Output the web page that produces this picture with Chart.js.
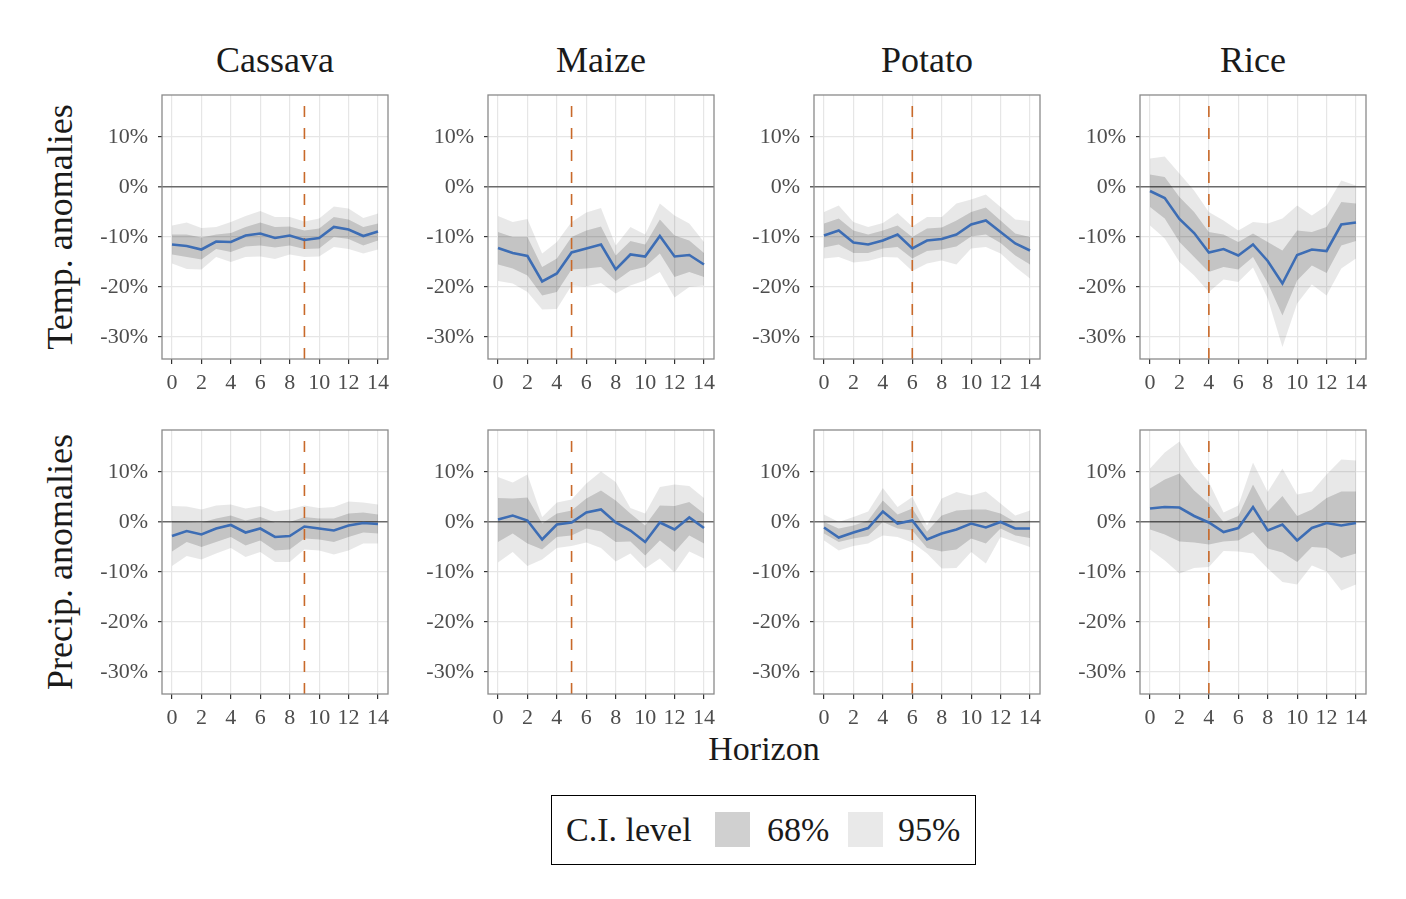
<!DOCTYPE html>
<html>
<head>
<meta charset="utf-8">
<script src="https://cdn.jsdelivr.net/npm/chart.js@4.4.1/dist/chart.umd.min.js"></script>
<style>
  body { margin: 0; background: #fff; font-family: "Liberation Serif", serif; color: #1a1a1a; }
  #wrap { position: relative; width: 1406px; height: 899px; overflow: hidden; }
  canvas { position: absolute; }
  .title { position: absolute; width: 226px; text-align: center; font-size: 36px; line-height: 40px; }
  .rowlab { position: absolute; font-size: 36px; white-space: nowrap; line-height: 40px;
            transform: translate(-50%, -50%) rotate(-90deg); }
  #xlab { position: absolute; left: 764px; top: 749px; font-size: 34px; line-height: 40px;
          transform: translate(-50%, -50%); }
  #legend { position: absolute; left: 551px; top: 795px; width: 423px; height: 68px;
            border: 1.3px solid #000; }
  #legend span { position: absolute; top: 14px; font-size: 34px; line-height: 40px; }
  #legend i { position: absolute; top: 16px; width: 35px; height: 35px; }
</style>
</head>
<body>
<div id="wrap">
  <div id="legend"></div>
  <div id="xlab">Horizon</div>
</div>
<script>
// DATA
const horizons = [0, 1, 2, 3, 4, 5, 6, 7, 8, 9, 10, 11, 12, 13, 14];
const crops = ["Cassava", "Maize", "Potato", "Rice"];
const rowLabels = ["Temp. anomalies", "Precip. anomalies"];
const shockHorizon = [9, 5, 6, 4];
const xTicks = [0, 2, 4, 6, 8, 10, 12, 14];
const yTicks = [-30, -20, -10, 0, 10];
const ciLevels = ["68%", "95%"];

// temperature anomalies (%), one row per crop
const tempEst = [
  [-11.5, -11.8, -12.5, -10.9, -11.0, -9.7, -9.3, -10.2, -9.7, -10.6, -10.2, -8.0, -8.5, -9.8, -8.9],
  [-12.2, -13.2, -13.8, -18.9, -17.3, -13.1, -12.3, -11.5, -16.5, -13.5, -13.9, -9.8, -13.9, -13.6, -15.5],
  [-9.7, -8.7, -11.1, -11.5, -10.7, -9.5, -12.3, -10.7, -10.4, -9.5, -7.5, -6.7, -9.0, -11.3, -12.7],
  [-0.8, -2.2, -6.4, -9.2, -13.1, -12.4, -13.7, -11.5, -14.8, -19.3, -13.6, -12.5, -12.8, -7.5, -7.1]
];
const tempHi68 = [
  [-9.5, -9.5, -10.1, -9.5, -9.2, -8.0, -7.1, -8.0, -7.9, -8.7, -8.3, -6.0, -6.5, -8.0, -7.3],
  [-9.0, -10.0, -10.0, -16.0, -14.3, -10.0, -8.7, -7.9, -13.7, -10.8, -11.5, -6.5, -9.7, -10.7, -13.2],
  [-7.3, -6.3, -8.7, -9.5, -8.7, -7.7, -10.0, -8.3, -8.1, -6.7, -5.0, -4.1, -6.7, -9.3, -10.0],
  [2.5, 2.0, -2.0, -5.0, -9.0, -9.5, -11.0, -9.3, -11.0, -12.7, -8.7, -9.0, -8.0, -3.0, -3.3]
];
const tempLo68 = [
  [-13.5, -14.0, -14.5, -12.4, -13.0, -11.9, -11.7, -12.1, -11.7, -12.4, -12.3, -10.0, -10.4, -11.7, -10.7],
  [-15.5, -16.3, -17.7, -21.7, -21.0, -16.5, -16.3, -16.0, -18.8, -16.7, -16.0, -13.3, -18.0, -17.0, -18.0],
  [-12.1, -11.5, -13.2, -13.2, -12.3, -12.0, -14.3, -12.8, -12.5, -11.9, -9.9, -9.5, -11.2, -13.7, -15.5],
  [-4.0, -6.3, -11.0, -14.0, -17.0, -16.0, -16.5, -14.0, -19.2, -25.7, -18.7, -15.7, -17.2, -11.7, -10.8]
];
const tempHi95 = [
  [-7.7, -7.1, -8.2, -8.0, -7.0, -5.8, -4.8, -6.0, -6.0, -6.9, -6.3, -3.9, -4.3, -6.2, -5.3],
  [-5.8, -7.0, -6.4, -13.3, -11.0, -7.0, -5.1, -4.2, -11.7, -8.0, -9.5, -3.3, -5.7, -7.3, -11.0],
  [-5.0, -3.7, -7.0, -8.0, -7.2, -5.2, -7.9, -6.0, -6.0, -3.3, -2.5, -1.5, -4.0, -6.5, -6.8],
  [5.7, 6.1, 2.7, -0.7, -5.0, -6.7, -8.7, -7.0, -7.3, -6.3, -3.7, -5.7, -3.7, 1.3, 0.3]
];
const tempLo95 = [
  [-15.3, -16.4, -16.5, -14.0, -15.0, -14.0, -13.9, -14.4, -13.5, -14.0, -13.9, -12.0, -12.4, -13.3, -12.5],
  [-18.8, -19.3, -21.0, -24.5, -24.4, -19.7, -19.9, -19.2, -21.3, -19.7, -18.7, -17.0, -22.1, -20.0, -19.7],
  [-14.3, -14.0, -15.1, -14.8, -14.0, -14.1, -16.8, -15.3, -14.7, -15.5, -12.3, -12.0, -13.3, -16.0, -18.3],
  [-7.7, -10.3, -15.0, -17.7, -21.0, -18.5, -19.0, -16.1, -22.3, -32.0, -23.3, -19.5, -21.7, -16.3, -14.3]
];

// precipitation anomalies (%), one row per crop
const precEst = [
  [-2.8, -1.8, -2.5, -1.3, -0.6, -2.1, -1.3, -3.0, -2.8, -0.9, -1.3, -1.7, -0.7, -0.2, -0.4],
  [0.5, 1.3, 0.3, -3.5, -0.5, -0.1, 1.9, 2.5, -0.1, -1.7, -4.0, -0.1, -1.5, 0.9, -1.2],
  [-1.1, -3.1, -2.1, -1.2, 2.1, -0.3, 0.3, -3.5, -2.3, -1.5, -0.3, -1.1, 0.0, -1.3, -1.3],
  [2.7, 3.0, 2.9, 1.2, -0.1, -2.0, -1.2, 3.0, -1.7, -0.5, -3.7, -1.2, -0.2, -0.7, -0.2]
];
const precHi68 = [
  [0.1, 0.0, -0.1, 0.7, 1.3, 0.3, 1.0, -0.1, 0.0, 1.0, 0.7, 0.7, 1.7, 1.9, 1.5],
  [4.8, 4.7, 4.9, -0.3, 1.7, 2.3, 4.7, 6.3, 4.3, 1.7, -0.7, 3.3, 3.2, 4.0, 1.7],
  [0.0, -1.3, -0.7, 0.3, 4.3, 1.5, 2.7, -1.9, 1.3, 2.3, 2.5, 2.5, 1.7, 0.0, 0.3],
  [6.7, 8.5, 9.7, 6.3, 3.7, 0.0, 1.2, 7.5, 2.1, 5.2, 1.2, 2.5, 4.8, 6.1, 6.1]
];
const precLo68 = [
  [-5.9, -4.0, -5.0, -4.0, -3.0, -4.7, -3.7, -5.7, -5.5, -3.3, -3.5, -4.0, -3.0, -2.1, -2.3],
  [-4.0, -2.3, -4.3, -5.5, -3.0, -2.7, -1.3, -1.9, -4.0, -3.9, -6.7, -3.7, -6.0, -2.7, -4.3],
  [-2.3, -4.0, -3.3, -2.8, 0.0, -1.3, -1.7, -5.2, -5.9, -5.5, -3.3, -4.3, -1.3, -2.7, -3.2],
  [-1.5, -2.5, -3.9, -4.1, -4.5, -3.9, -3.7, -2.0, -5.3, -6.1, -8.0, -5.0, -5.2, -7.2, -6.3]
];
const precHi95 = [
  [3.2, 3.1, 2.5, 3.3, 3.5, 2.7, 3.2, 2.1, 2.5, 3.3, 2.8, 3.0, 4.1, 3.9, 3.5],
  [9.0, 7.9, 9.5, 1.0, 3.9, 4.5, 7.7, 10.1, 8.0, 2.8, 1.7, 7.0, 7.5, 7.2, 4.8],
  [1.5, 0.0, 1.0, 2.1, 6.8, 3.0, 5.0, -0.7, 4.7, 6.0, 5.3, 6.1, 3.7, 1.3, 2.3],
  [10.7, 13.9, 16.1, 11.3, 8.0, 1.9, 3.3, 11.9, 6.0, 10.7, 5.5, 6.1, 9.5, 12.5, 12.3]
];
const precLo95 = [
  [-8.8, -6.8, -7.5, -6.3, -5.2, -7.0, -6.0, -8.0, -8.0, -5.5, -5.7, -6.5, -5.7, -4.3, -4.3],
  [-8.1, -6.0, -8.8, -7.5, -5.2, -4.8, -4.1, -5.2, -7.9, -6.3, -9.3, -7.3, -10.1, -5.9, -7.3],
  [-3.7, -5.7, -4.8, -4.3, -2.7, -3.0, -4.1, -6.3, -9.3, -9.2, -6.0, -8.3, -3.0, -4.0, -5.0],
  [-5.5, -7.7, -10.3, -9.2, -9.0, -5.8, -5.9, -6.3, -9.3, -12.0, -12.5, -8.7, -9.9, -13.7, -12.5]
];

const rowsData = [
  { est: tempEst, hi68: tempHi68, lo68: tempLo68, hi95: tempHi95, lo95: tempLo95 },
  { est: precEst, hi68: precHi68, lo68: precLo68, hi95: precHi95, lo95: precLo95 }
];

// LAYOUT
const yMin = -34.4, yMax = 18.4, vlineTop = 16.3;
const xMin = -0.68, xMax = 14.68;
const colLeft = [162, 488, 814, 1140];
const rowTop = [95, 430];
const panelW = 226, panelH = 264;
const padL = 62, padT = 24, padR = 12, padB = 40;

Chart.defaults.font.family = '"Liberation Serif", serif';

const panelBox = {
  id: 'panelBox',
  afterDatasetsDraw(chart) {
    const { ctx, chartArea: a } = chart;
    ctx.save();
    ctx.strokeStyle = '#8a8a8a';
    ctx.lineWidth = 1.3;
    ctx.strokeRect(a.left, a.top, a.right - a.left, a.bottom - a.top);
    ctx.restore();
  }
};

const pts = arr => arr.map((v, i) => ({ x: horizons[i], y: v }));
const band = (arr, fill, bg, order) => ({
  data: pts(arr), borderColor: 'rgba(0,0,0,0)', borderWidth: 0, pointRadius: 0,
  fill: fill, backgroundColor: bg, order: order
});

const wrap = document.getElementById('wrap');

crops.forEach((crop, c) => {
  const t = document.createElement('div');
  t.className = 'title';
  t.textContent = crop;
  t.style.left = colLeft[c] + 'px';
  t.style.top = '40px';
  wrap.appendChild(t);
});

rowLabels.forEach((lab, r) => {
  const d = document.createElement('div');
  d.className = 'rowlab';
  d.textContent = lab;
  d.style.left = '60px';
  d.style.top = (rowTop[r] + panelH / 2) + 'px';
  wrap.appendChild(d);
});

rowsData.forEach((rd, r) => {
  crops.forEach((crop, c) => {
    const cv = document.createElement('canvas');
    cv.width = padL + panelW + padR;
    cv.height = padT + panelH + padB;
    cv.style.left = (colLeft[c] - padL) + 'px';
    cv.style.top = (rowTop[r] - padT) + 'px';
    wrap.appendChild(cv);

    new Chart(cv, {
      type: 'line',
      data: {
        datasets: [
          { data: pts(rd.est[c]), borderColor: '#3d6db4', borderWidth: 2.6, pointRadius: 0, fill: false, order: 0 },
          { data: [{ x: shockHorizon[c], y: yMin }, { x: shockHorizon[c], y: vlineTop }],
            borderColor: '#c8692a', borderWidth: 1.6, borderDash: [11, 11], pointRadius: 0, fill: false, order: 1 },
          band(rd.hi68[c], '+1', 'rgba(0,0,0,0.155)', 2),
          band(rd.lo68[c], false, 'rgba(0,0,0,0)', 2),
          band(rd.hi95[c], '+1', 'rgba(0,0,0,0.09)', 3),
          band(rd.lo95[c], false, 'rgba(0,0,0,0)', 3)
        ]
      },
      options: {
        responsive: false,
        animation: false,
        events: [],
        layout: { padding: { top: padT, right: padR, left: 0, bottom: 0 } },
        elements: { line: { tension: 0 } },
        plugins: { legend: { display: false }, tooltip: { enabled: false } },
        scales: {
          x: {
            type: 'linear', min: xMin, max: xMax,
            afterBuildTicks: s => { s.ticks = xTicks.map(v => ({ value: v })); },
            afterFit: s => { s.height = padB; },
            border: { display: false },
            grid: { color: '#e6e6e6', lineWidth: 1.2, tickColor: '#333', tickLength: 5, tickWidth: 1.2 },
            ticks: { color: '#4d4d4d', font: { size: 22 }, padding: 6, maxRotation: 0, autoSkip: false }
          },
          y: {
            type: 'linear', min: yMin, max: yMax,
            afterBuildTicks: s => { s.ticks = yTicks.map(v => ({ value: v })); },
            afterFit: s => { s.width = padL; },
            border: { display: false },
            grid: {
              color: ctx => (ctx.tick && ctx.tick.value === 0) ? '#6b6b6b' : '#e6e6e6',
              lineWidth: ctx => (ctx.tick && ctx.tick.value === 0) ? 1.6 : 1.2,
              tickColor: '#333', tickLength: 4, tickWidth: 1.2
            },
            ticks: { color: '#4d4d4d', font: { size: 22 }, padding: 10, autoSkip: false,
                     callback: v => v + '%' }
          }
        }
      },
      plugins: [panelBox]
    });
  });
});

// legend
const legend = document.getElementById('legend');
const legendItems = [
  { text: 'C.I. level', left: 14 },
  { key: '#d0d0d0', left: 163 },
  { text: ciLevels[0], left: 215 },
  { key: '#e9e9e9', left: 296 },
  { text: ciLevels[1], left: 346 }
];
legendItems.forEach(it => {
  if (it.key) {
    const k = document.createElement('i');
    k.style.left = it.left + 'px';
    k.style.background = it.key;
    legend.appendChild(k);
  } else {
    const s = document.createElement('span');
    s.style.left = it.left + 'px';
    s.textContent = it.text;
    legend.appendChild(s);
  }
});
</script>
</body>
</html>
